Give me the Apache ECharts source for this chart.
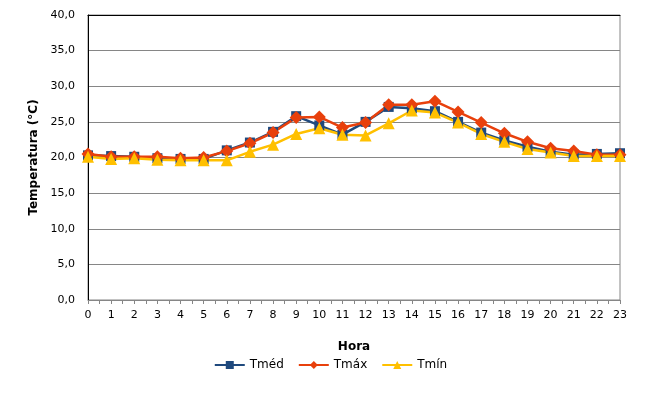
<!DOCTYPE html>
<html>
  <head>
    <meta charset="utf-8" />
    <script src="https://cdn.jsdelivr.net/npm/echarts@6/dist/echarts.min.js"></script>
  </head>
  <body>
    <style>
      #main, html, body { width: 100%; height: 100%; margin: 0; overflow: hidden; background: #fff; }
    </style>
    <div id="main"></div>
    <script type="text/javascript">
      // horas do dia
      var horas = [0,1,2,3,4,5,6,7,8,9,10,11,12,13,14,15,16,17,18,19,20,21,22,23];
      // temperaturas (°C)
      var tMed = [20.3,20.2,20.1,19.9,19.8,19.8,21.0,22.1,23.6,25.8,24.5,23.2,25.0,27.1,26.9,26.5,25.0,23.5,22.4,21.5,20.8,20.4,20.5,20.6];
      var tMax = [20.5,20.1,20.1,20.1,19.9,20.0,20.9,22.0,23.5,25.6,25.7,24.2,24.9,27.4,27.4,27.9,26.4,24.9,23.4,22.2,21.3,20.9,20.4,20.4];
      var tMin = [20.1,19.8,19.9,19.7,19.6,19.6,19.6,20.8,21.8,23.3,24.1,23.2,23.1,24.8,26.6,26.3,24.9,23.3,22.2,21.2,20.7,20.2,20.2,20.2];

      function pares(vals) {
        return horas.map(function (h, i) { return [h, vals[i]]; });
      }

      var fonte = 'DejaVu Sans';
      var myChart = echarts.init(document.getElementById('main'));
      var option = {
        animation: false,
        textStyle: { fontFamily: fonte },
        grid: { left: 88, right: 41, top: 15, bottom: 96, show: true, borderColor: '#868686', borderWidth: 1 },
        legend: {
          bottom: 20,
          left: 'center',
          itemWidth: 30,
          itemHeight: 10,
          itemGap: 14,
          textStyle: { fontSize: 12, color: '#000', fontFamily: fonte },
          data: ['Tméd', 'Tmáx', 'Tmín']
        },
        xAxis: [{
          type: 'value',
          min: 0, max: 23, interval: 1,
          name: 'Hora',
          nameLocation: 'middle',
          nameGap: 41,
          nameTextStyle: { fontWeight: 'bold', fontSize: 12, color: '#000' },
          axisLine: { lineStyle: { color: '#868686' } },
          axisTick: { show: true, length: 4, lineStyle: { color: '#868686' } },
          minorTick: { show: true, splitNumber: 2, length: 4, lineStyle: { color: '#868686' } },
          axisLabel: { fontSize: 11, color: '#000', margin: 10 },
          splitLine: { show: false }
        }, {
          type: 'value',
          position: 'top',
          min: 0, max: 23,
          axisLine: { show: true, lineStyle: { color: '#000' } },
          axisTick: { show: false },
          axisLabel: { show: false },
          splitLine: { show: false }
        }],
        yAxis: {
          type: 'value',
          min: 0, max: 40, interval: 5,
          name: 'Temperatura (°C)',
          nameLocation: 'middle',
          nameGap: 45,
          nameTextStyle: { fontWeight: 'bold', fontSize: 12, color: '#000' },
          axisLine: { show: true, lineStyle: { color: '#000' } },
          axisTick: { show: false },
          axisLabel: {
            fontSize: 11, color: '#000', margin: 13,
            formatter: function (v) { return v.toFixed(1).replace('.', ','); }
          },
          splitLine: { lineStyle: { color: '#868686' } }
        },
        series: [
          {
            name: 'Tméd', type: 'line', data: pares(tMed),
            symbol: 'rect', symbolSize: 10,
            itemStyle: { color: '#1F497D' },
            lineStyle: { width: 2.5, color: '#1F497D' }
          },
          {
            name: 'Tmáx', type: 'line', data: pares(tMax),
            symbol: 'diamond', symbolSize: 13,
            itemStyle: { color: '#E8400C' },
            lineStyle: { width: 2.5, color: '#E8400C' }
          },
          {
            name: 'Tmín', type: 'line', data: pares(tMin),
            symbol: 'triangle', symbolSize: 12,
            itemStyle: { color: '#FFC000' },
            lineStyle: { width: 2.5, color: '#FFC000' }
          }
        ]
      };
      myChart.setOption(option);
    </script>
  </body>
</html>
